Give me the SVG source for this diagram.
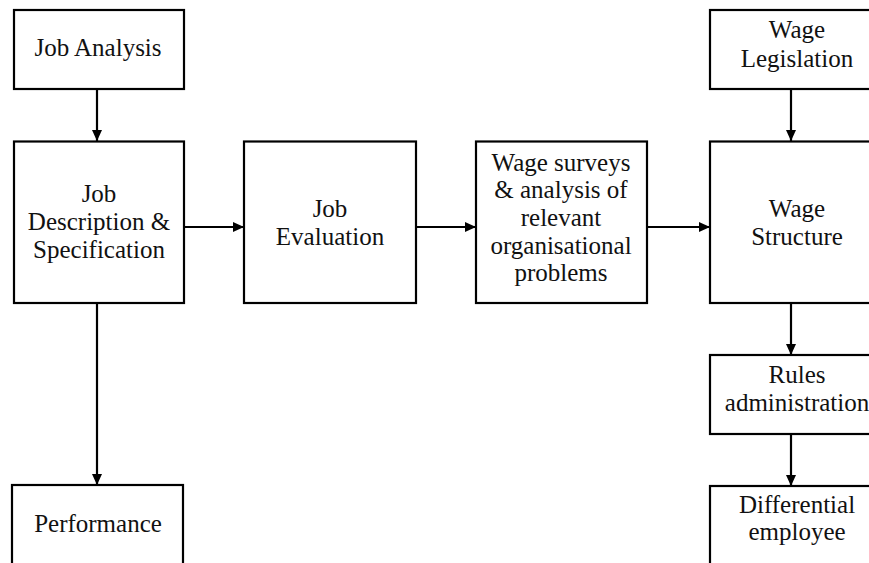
<svg xmlns="http://www.w3.org/2000/svg" width="869" height="563" viewBox="0 0 869 563">
<defs>
<style>
.box{fill:#fff;stroke:#000;stroke-width:2.2}
.t{font-family:'Liberation Serif',Tinos,'Times New Roman','DejaVu Serif',serif;font-size:25px;fill:#111;text-anchor:middle}
.c{stroke:#000;stroke-width:2.2;fill:none;marker-end:url(#ah)}
</style>
<marker id="ah" markerWidth="12" markerHeight="10" refX="11" refY="5" orient="auto" markerUnits="userSpaceOnUse">
<path d="M0,0 L11,5 L0,10 Z" fill="#000"/>
</marker>
</defs>
<rect width="869" height="563" fill="#fff"/>
<g id="connectors">
<line class="c" x1="97" y1="89" x2="97" y2="141"/>
<line class="c" x1="184" y1="227" x2="244" y2="227"/>
<line class="c" x1="416" y1="227" x2="476" y2="227"/>
<line class="c" x1="647" y1="227" x2="710" y2="227"/>
<line class="c" x1="97" y1="303" x2="97" y2="485"/>
<line class="c" x1="791" y1="89" x2="791" y2="141"/>
<line class="c" x1="791" y1="303" x2="791" y2="355"/>
<line class="c" x1="791" y1="434" x2="791" y2="486"/>
</g>
<g id="job-analysis">
<rect class="box" x="14" y="10" width="170" height="79"/>
<text class="t" x="98" y="56">Job Analysis</text>
</g>
<g id="job-description">
<rect class="box" x="14" y="141.5" width="170" height="161.5"/>
<text class="t" x="99" y="202">Job</text>
<text class="t" x="99" y="230">Description &amp;</text>
<text class="t" x="99" y="258">Specification</text>
</g>
<g id="job-evaluation">
<rect class="box" x="244" y="141.5" width="172" height="161.5"/>
<text class="t" x="330" y="217">Job</text>
<text class="t" x="330" y="245">Evaluation</text>
</g>
<g id="wage-surveys">
<rect class="box" x="476" y="141.5" width="171" height="161.5"/>
<text class="t" x="561" y="171">Wage surveys</text>
<text class="t" x="561" y="198">&amp; analysis of</text>
<text class="t" x="561" y="226">relevant</text>
<text class="t" x="561" y="254">organisational</text>
<text class="t" x="561" y="281">problems</text>
</g>
<g id="wage-legislation">
<rect class="box" x="710" y="10" width="172" height="79"/>
<text class="t" x="797" y="38">Wage</text>
<text class="t" x="797" y="67">Legislation</text>
</g>
<g id="wage-structure">
<rect class="box" x="710" y="141.5" width="172" height="161.5"/>
<text class="t" x="797" y="217">Wage</text>
<text class="t" x="797" y="245">Structure</text>
</g>
<g id="rules-administration">
<rect class="box" x="710" y="355" width="172" height="79"/>
<text class="t" x="797" y="383">Rules</text>
<text class="t" x="797" y="411">administration</text>
</g>
<g id="differential-employee">
<rect class="box" x="710" y="486" width="172" height="100"/>
<text class="t" x="797" y="513">Differential</text>
<text class="t" x="797" y="540">employee</text>
</g>
<g id="performance">
<rect class="box" x="12" y="485" width="171" height="100"/>
<text class="t" x="98" y="532">Performance</text>
</g>
</svg>
